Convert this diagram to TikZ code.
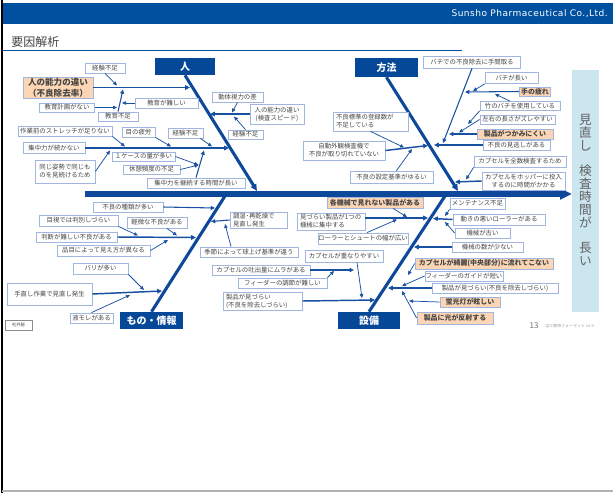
\documentclass[tikz,border=0pt]{standalone}
\usepackage{fontspec}
\newfontfamily\jp{Noto Sans CJK JP}
\newfontfamily\hdrfont[LetterSpace=5]{DejaVu Sans}
\usetikzlibrary{arrows.meta}
\newdimen\pxu \pxu=0.75pt
\definecolor{hdr}{RGB}{0,80,160}
\definecolor{bone}{RGB}{14,72,154}
\definecolor{cat}{RGB}{6,72,152}
\definecolor{bxc}{RGB}{160,182,222}
\definecolor{txt}{RGB}{70,70,70}
\definecolor{peach}{RGB}{252,214,180}
\definecolor{headc}{RGB}{204,230,240}
\definecolor{lnc}{RGB}{24,80,162}
\tikzset{
 bx/.style={draw=bxc, fill=white, line width=0.6pt, inner sep=0pt, text=txt, font=\jp\fontsize{4.8}{6}\selectfont, align=center},
 pk/.style={bx, fill=peach, font=\jp\bfseries\fontsize{5.2}{6.4}\selectfont},
 lbx/.style={align=left, inner xsep=3\pxu},
 catbox/.style={fill=cat, text=white, inner sep=0pt, font=\jp\bfseries\fontsize{7.5}{9}\selectfont},
 bonel/.style={draw=bone, line width=2.3pt},
 bonear/.style={bonel, -{Triangle[length=5pt,width=4.5pt]}},
 mainar/.style={draw=lnc, line width=1.1pt, -{Triangle[length=3.6pt,width=3.4pt]}},
 midar/.style={draw=lnc, line width=0.8pt, -{Triangle[length=3.2pt,width=3pt]}},
 subar/.style={draw=lnc, line width=0.55pt, -{Triangle[length=3pt,width=2.6pt]}},
}
\begin{document}
\begin{tikzpicture}[x=0.75pt,y=-0.75pt]
\useasboundingbox (0,0) rectangle (613,493);
% frame and header
\fill[white] (0,0) rectangle (613,493);
\draw[black, line width=1pt] (2,0) -- (2,493);
\draw[black!30, line width=1pt] (2,491) -- (613,491);
\fill[hdr] (3,3) rectangle (613,24);
\node[anchor=east, text=white, font=\hdrfont\fontsize{6.8}{8}\selectfont, inner sep=0pt] (hdrtxt) at (608,14) {Sunsho Pharmaceutical Co.,Ltd.};
\node[anchor=west, text=txt, font=\jp\fontsize{9}{10}\selectfont, inner sep=0pt] (title) at (11,42) {要因解析};
\draw[hdr, line width=0.9pt] (3,50.5) -- (462,50.5);
% head box
\fill[headc] (572,70) rectangle (599,312);
\node[text=black!62, font=\jp\fontsize{9.5}{9.8}\selectfont, align=center, inner sep=0pt] (head) at (585.5,190) {見\\直\\し\\[9pt]検\\査\\時\\間\\が\\[9pt]長\\い};
% spine
\coordinate (sp0) at (85,194);
\coordinate (sp1) at (572,194);
\draw[draw=bone, line width=3.8pt, -{Triangle[length=9pt,width=8pt]}] (sp0) -- (sp1);
% category boxes
\node[catbox, minimum width=60\pxu, minimum height=17\pxu] (cH) at (185,66.5) {人};
\node[catbox, minimum width=63\pxu, minimum height=19\pxu] (cM) at (386.5,67.5) {方法};
\node[catbox, minimum width=63\pxu, minimum height=17\pxu] (cO) at (151.5,320.5) {もの・情報};
\node[catbox, minimum width=62\pxu, minimum height=17\pxu] (cE) at (369,320.5) {設備};
\coordinate (hB) at (257,191);
\coordinate (mB) at (458,191);
\coordinate (oT) at (225,196);
\coordinate (eT) at (445,196);
\draw[bonear] (cH.south) -- (hB);
\draw[bonear] (cM.south) -- (mB);
\draw[bonel] (cO.north) -- (oT);
\draw[bonel] (cE.north) -- (eT);

% ===== 人 =====
\node[bx, minimum width=40\pxu, minimum height=10\pxu] (h1) at (105,68) {経験不足};
\node[pk, minimum width=70\pxu, minimum height=21\pxu, font=\jp\bfseries\fontsize{6.4}{8}\selectfont] (h2) at (58,87.5) {人の能力の違い\\（不良除去率）};
\node[bx, minimum width=55\pxu, minimum height=9\pxu] (h3) at (67,107.5) {教育計画がない};
\node[bx, minimum width=63\pxu, minimum height=10\pxu] (h4) at (166.5,103) {教育が難しい};
\node[bx, minimum width=40\pxu, minimum height=9\pxu] (h5) at (118,116.5) {教育不足};
\node[bx, minimum width=51\pxu, minimum height=10\pxu] (h6) at (237.5,97) {動体視力の差};
\node[bx, minimum width=54\pxu, minimum height=20\pxu] (h7) at (277,114) {人の能力の違い\\(検査スピード)};
\node[bx, minimum width=35\pxu, minimum height=9\pxu] (h8) at (245.5,134.5) {経験不足};
\node[bx, minimum width=94\pxu, minimum height=10\pxu] (h9) at (65,131) {作業前のストレッチが足りない};
\node[bx, minimum width=33\pxu, minimum height=10\pxu] (h10) at (138.5,132) {目の疲労};
\node[bx, minimum width=35\pxu, minimum height=10\pxu] (h11) at (185.5,133) {経験不足};
\node[bx, minimum width=62\pxu, minimum height=11\pxu] (h12) at (54,148) {集中力が続かない};
\node[bx, minimum width=63\pxu, minimum height=9\pxu] (h13) at (143.5,156.5) {１ケースの量が多い};
\node[bx, minimum width=60\pxu, minimum height=23\pxu] (h14) at (65,171.5) {同じ姿勢で同じも\\のを見続けるため};
\node[bx, minimum width=57\pxu, minimum height=9\pxu] (h15) at (151.5,169.5) {休憩頻度の不足};
\node[bx, minimum width=98\pxu, minimum height=10\pxu] (h16) at (196,183) {集中力を継続する時間が長い};
\coordinate (hP1) at (190,87.5);
\coordinate (hA1) at (117,85.5);
\coordinate (hA2) at (123,89.5);
\coordinate (hA3) at (117,107.5);
\coordinate (hA4) at (122,103);
\coordinate (hP2) at (210,114);
\coordinate (hA5) at (232,112.5);
\coordinate (hA6) at (234,116.5);
\coordinate (hP3) at (229,148);
\coordinate (hA7) at (125,146.5);
\coordinate (hA8) at (171,146.5);
\coordinate (hA9) at (212,146.5);
\coordinate (hA10) at (110,150.5);
\coordinate (hA11) at (204,150.5);
\coordinate (hA12) at (198.5,165);
\draw[mainar] (h2.east) -- (hP1);
\draw[subar] (h1.south) -- (hA1);
\draw[midar] (h5.north) -- (hA2);
\draw[subar] (h3.east) -- (hA3);
\draw[subar] (h4.west) -- (hA4);
\draw[mainar] (h7.west) -- (hP2);
\draw[subar] (h6.south) -- (hA5);
\draw[subar] (h8.north) -- (hA6);
\draw[mainar] (h12.east) -- (hP3);
\draw[subar] (h9.south east) -- (hA7);
\draw[subar] (h10.south east) -- (hA8);
\draw[subar] ([xshift=-3\pxu]h11.south east) -- (hA9);
\draw[subar] (h14.east) -- (hA10);
\draw[midar] (h16.north) -- (hA11);
\draw[subar] (h13.east) -- (hA12);
\draw[subar] (h15.east) -- (hA12);

% ===== 方法 =====
\node[bx, minimum width=97\pxu, minimum height=12\pxu] (m1) at (472,62) {バチでの不良除去に手間取る};
\node[bx, minimum width=53\pxu, minimum height=11\pxu] (m2) at (511.5,78) {バチが長い};
\node[pk, minimum width=31\pxu, minimum height=9\pxu] (m3) at (535,91.5) {手の疲れ};
\node[bx, minimum width=80\pxu, minimum height=9\pxu] (m4) at (520,106) {竹のバチを使用している};
\node[bx, minimum width=75\pxu, minimum height=9\pxu] (m5) at (517.5,119.5) {左右の長さがズレやすい};
\node[pk, minimum width=76\pxu, minimum height=10\pxu] (m6) at (515,134) {製品がつかみにくい};
\node[bx, minimum width=67\pxu, minimum height=10\pxu] (m7) at (516.5,145) {不良の見逃しがある};
\node[bx, minimum width=92\pxu, minimum height=11\pxu] (m8) at (520,161.5) {カプセルを全数検査するため};
\node[bx, minimum width=83\pxu, minimum height=18\pxu] (m9) at (523.5,181) {カプセルをホッパーに投入\\するのに時間がかかる};
\node[bx, lbx, text width=69\pxu, minimum height=19\pxu] (m10) at (370.5,121.5) {不良標準の登録数が\\不足している};
\node[bx, minimum width=82\pxu, minimum height=19\pxu] (m11) at (344,150.5) {自動外観検査機で\\不良が取り切れていない};
\node[bx, minimum width=83\pxu, minimum height=12\pxu] (m12) at (391.5,177) {不良の設定基準がゆるい};
\coordinate (mP1L) at (428,145.5);
\coordinate (mP1R) at (434,145);
\coordinate (mA1) at (443,143);
\coordinate (mA2) at (465,92);
\coordinate (mA3) at (473,91);
\coordinate (mA4) at (495,94);
\coordinate (mA5) at (459,132.5);
\coordinate (mA6) at (468,124);
\coordinate (mA7) at (449,134);
\coordinate (mA8) at (404,147.5);
\coordinate (mA9) at (412,149);
\coordinate (mP2) at (455,182);
\coordinate (mA10) at (466,179.5);
\draw[mainar] (m11.east) -- (mP1L);
\draw[mainar] (m7.west) -- (mP1R);
\draw[midar] (m1.south) -- (mA1);
\draw[midar] (m3.west) -- (mA2);
\draw[subar] (m2.south west) -- (mA3);
\draw[subar] ([xshift=-10\pxu]m4.north) -- (mA4);
\draw[subar] (m4.south west) -- (mA6);
\draw[subar] (m5.west) -- (mA5);
\draw[midar] (m6.west) -- (mA7);
\draw[subar] (m10.south) -- (mA8);
\draw[subar] ([xshift=5\pxu]m12.north) -- (mA9);
\draw[mainar] (m9.west) -- (mP2);
\draw[subar] (m8.south west) -- (mA10);

% ===== もの・情報 =====
\node[bx, minimum width=70\pxu, minimum height=10\pxu] (o1) at (128,207) {不良の種類が多い};
\node[bx, minimum width=79\pxu, minimum height=11\pxu] (o2) at (78.5,220.5) {目視では判別しづらい};
\node[bx, minimum width=60\pxu, minimum height=11\pxu] (o3) at (157,222.5) {軽微な不良がある};
\node[bx, minimum width=81\pxu, minimum height=10\pxu] (o4) at (76.5,237) {判断が難しい不良がある};
\node[bx, minimum width=93\pxu, minimum height=11\pxu] (o5) at (103.5,250.5) {品目によって見え方が異なる};
\node[bx, minimum width=55\pxu, minimum height=11\pxu] (o6) at (100.5,268.5) {バリが多い};
\node[bx, minimum width=85\pxu, minimum height=22\pxu] (o7) at (49.5,294) {手直し作業で見直し発生};
\node[bx, minimum width=43\pxu, minimum height=10\pxu] (o8) at (91.5,318) {液モレがある};
\node[bx, lbx, text width=51\pxu, minimum height=16\pxu] (o9) at (258.5,220) {調湿･再乾燥で\\見直し発生};
\node[bx, minimum width=98\pxu, minimum height=10\pxu] (o10) at (249,252) {季節によって球上げ基準が違う};
\coordinate (oP1) at (215,208);
\coordinate (oP3) at (196,237.5);
\coordinate (oA1) at (138,235.5);
\coordinate (oA2) at (177,235.5);
\coordinate (oA3) at (168,240);
\coordinate (oP2) at (211,221.5);
\coordinate (oA4) at (225,224);
\coordinate (oP4) at (162,291);
\coordinate (oA5) at (144,290);
\coordinate (oA6) at (130,295);
\draw[midar] (o1.east) -- (oP1);
\draw[mainar] (o4.east) -- (oP3);
\draw[subar] (o2.south east) -- (oA1);
\draw[subar] ([xshift=10\pxu]o3.south) -- (oA2);
\draw[subar] (o5.east) -- (oA3);
\draw[midar] (o9.west) -- (oP2);
\draw[subar] ([xshift=-18\pxu]o10.north) -- (oA4);
\draw[mainar] (o7.east) -- (oP4);
\draw[subar] (o6.south east) -- (oA5);
\draw[subar] (o8.north) -- (oA6);

% ===== 設備 =====
\node[pk, minimum width=96\pxu, minimum height=11\pxu] (e1) at (375,202.5) {各機械で見れない製品がある};
\node[bx, lbx, text width=62\pxu, minimum height=17\pxu] (e2) at (331,221.5) {見づらい製品が1つの\\機械に集中する};
\node[bx, minimum width=90\pxu, minimum height=11\pxu] (e3) at (363,238.5) {ローラーとシュートの幅が広い};
\node[bx, minimum width=78\pxu, minimum height=12\pxu] (e4) at (344,256) {カプセルが重なりやすい};
\node[bx, minimum width=98\pxu, minimum height=10\pxu] (e5) at (261,270) {カプセルの吐出量にムラがある};
\node[bx, minimum width=89\pxu, minimum height=10\pxu] (e6) at (282.5,283) {フィーダーの調節が難しい};
\node[bx, lbx, text width=73\pxu, minimum height=18\pxu] (e7) at (262.5,301) {製品が見づらい\\(不良を除去しづらい)};
\node[bx, minimum width=55\pxu, minimum height=11\pxu] (e8) at (477.5,203.5) {メンテナンス不足};
\node[bx, minimum width=92\pxu, minimum height=11\pxu] (e9) at (499,219.5) {動きの悪いローラーがある};
\node[bx, minimum width=55\pxu, minimum height=10\pxu] (e10) at (482.5,233) {機械が古い};
\node[bx, minimum width=71\pxu, minimum height=10\pxu] (e11) at (487.5,247) {機械の数が少ない};
\node[pk, minimum width=138\pxu, minimum height=11\pxu] (e12) at (484,263.5) {カプセルが綺麗(中央部分)に流れてこない};
\node[bx, minimum width=78\pxu, minimum height=10\pxu] (e13) at (464,276) {フィーダーのガイドが短い};
\node[bx, minimum width=126\pxu, minimum height=10\pxu] (e14) at (495,288) {製品が見づらい(不良を除去しづらい)};
\node[pk, minimum width=60\pxu, minimum height=10\pxu] (e15) at (470,302) {蛍光灯が眩しい};
\node[pk, minimum width=76\pxu, minimum height=12\pxu] (e16) at (455,318) {製品に光が反射する};
\coordinate (eP1L) at (428,218);
\coordinate (eP1R) at (433,218.5);
\coordinate (eA1) at (407,217);
\coordinate (eA2) at (397,219.5);
\coordinate (eA3) at (354,270);
\coordinate (eA4) at (334,271);
\coordinate (eA5) at (362,298);
\coordinate (eP4) at (375,300);
\coordinate (eA6) at (445,216);
\coordinate (eA7) at (445,222);
\coordinate (eP2) at (414,247);
\coordinate (eP3) at (388,288);
\coordinate (eA8) at (402,286);
\coordinate (eA9) at (408,275);
\coordinate (eA10) at (402,291);
\coordinate (eA11) at (409,301);
\draw[mainar] (e2.east |- eP1L) -- (eP1L);
\draw[subar] ([xshift=18\pxu]e1.south) -- (eA1);
\draw[subar] ([xshift=4\pxu]e3.north) -- (eA2);
\draw[midar] (e5.east) -- (eA3);
\draw[subar] (e6.north east) -- (eA4);
\draw[subar] ([xshift=13\pxu]e4.south) -- (eA5);
\draw[mainar] (e7.east) -- (eP4);
\draw[mainar] (e9.west) -- (eP1R);
\draw[subar] (e8.south west) -- (eA6);
\draw[subar] (e10.west) -- (eA7);
\draw[mainar] (e11.west) -- (eP2);
\draw[mainar] (e14.west) -- (eP3);
\draw[subar] (e13.west) -- (eA8);
\draw[subar] (e12.west) -- (eA9);
\draw[subar] (e16.west) -- (eA10);
\draw[subar] (e15.west) -- (eA11);

% footer
\node[draw=black!45, line width=0.5pt, minimum width=27\pxu, minimum height=10\pxu, inner sep=0pt, text=txt, font=\jp\fontsize{3.2}{4}\selectfont] (conf) at (18.5,325) {社外秘};
\node[text=black!55, font=\jp\fontsize{6}{7}\selectfont, inner sep=0pt] (pgno) at (534,325.5) {13};
\node[anchor=west, text=black!40, font=\jp\fontsize{3}{4}\selectfont, inner sep=0pt] (fmt) at (545,326) {QCC専用フォーマット v2.0};
\end{tikzpicture}
\end{document}
